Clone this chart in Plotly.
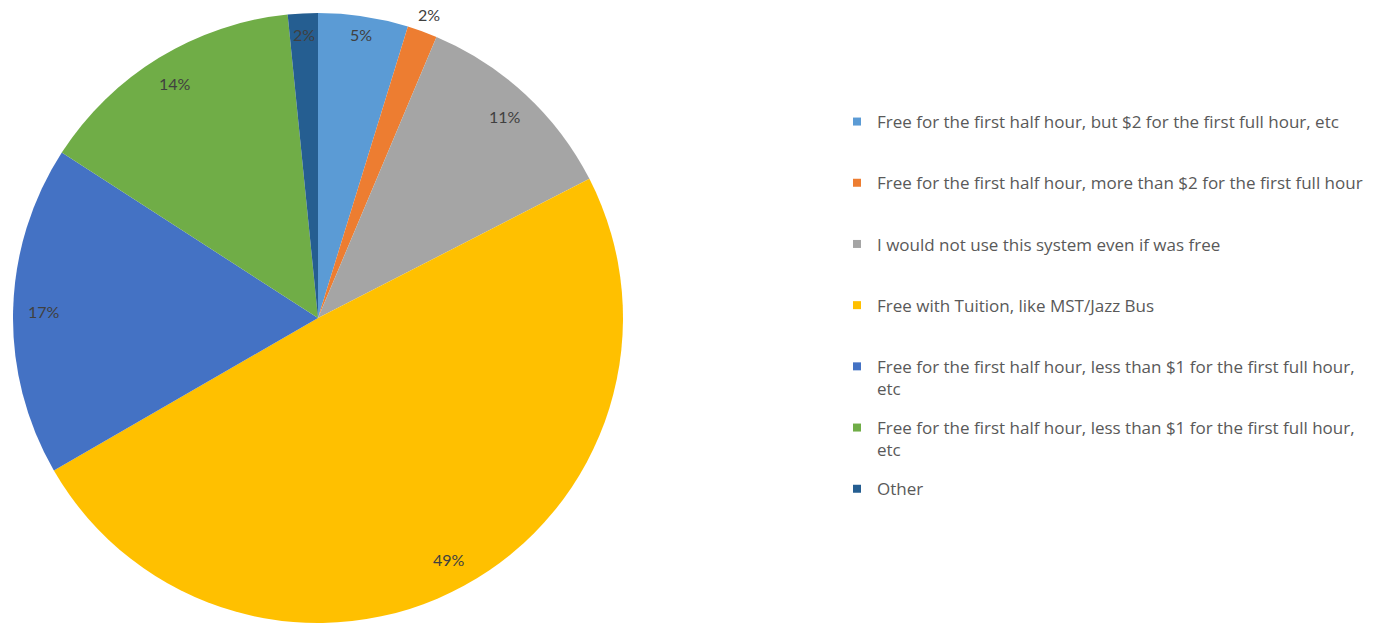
import math
import plotly.graph_objects as go

categories = [
    "Free for the first half hour, but $2 for the first full hour, etc",
    "Free for the first half hour, more than $2 for the first full hour",
    "I would not use this system even if was free",
    "Free with Tuition, like MST/Jazz Bus",
    "Free for the first half hour, less than $1 for the first full hour,<br>etc",
    "Free for the first half hour, less than $1 for the first full hour,<br>etc",
    "Other",
]
counts = [3, 1, 7, 31, 11, 9, 1]
colors = ["#5B9BD5", "#ED7D31", "#A5A5A5", "#FFC000", "#4472C4", "#70AD47", "#255E91"]
label_radius = [0.94, 1.06, 0.9, 0.9, 0.9, 0.9, 0.93]

W, H = 1379, 634
left, right, top, bottom = 13, 623, 13, 623
cx, cy, R = (left + right) / 2, (top + bottom) / 2, (right - left) / 2
FONT = "Lato"
LEGEND_FONT = "Open Sans"

fig = go.Figure()
fig.add_trace(go.Pie(
    values=counts,
    hovertext=[c.replace("<br>", " ") for c in categories],
    hoverinfo="text+percent",
    marker=dict(colors=colors, line=dict(width=0)),
    sort=False,
    direction="clockwise",
    rotation=0,
    textinfo="none",
    showlegend=False,
    domain=dict(x=[left / W, right / W], y=[1 - bottom / H, 1 - top / H]),
))

# legend entries (one group each so spacing can be controlled)
for i, (name, col) in enumerate(zip(categories, colors)):
    txt = name if "<br>" in name else name + "<br> "
    fig.add_trace(go.Scatter(
        x=[None], y=[None], mode="markers",
        marker=dict(symbol="square", size=8, color=col),
        name=txt, legendgroup=f"g{i}", showlegend=True, hoverinfo="skip",
    ))

# percentage labels placed along each slice's mid angle
total = sum(counts)
cum = 0
annotations = []
for v, rf in zip(counts, label_radius):
    mid = (cum + v / 2) / total * 2 * math.pi
    cum += v
    px = cx + rf * R * math.sin(mid)
    py = cy - rf * R * math.cos(mid)
    annotations.append(dict(
        x=px / W, y=1 - py / H, xref="paper", yref="paper",
        text=f"{round(v / total * 100)}%", showarrow=False,
        xanchor="center", yanchor="middle",
        font=dict(family=FONT, size=16, color="#404040"),
    ))

fig.update_layout(
    width=W, height=H,
    margin=dict(l=0, r=0, t=0, b=0),
    paper_bgcolor="white", plot_bgcolor="white",
    xaxis=dict(visible=False), yaxis=dict(visible=False),
    annotations=annotations,
    legend=dict(
        x=837 / W, y=1 - 104 / H, xanchor="left", yanchor="top",
        valign="top", tracegroupgap=14,
        font=dict(family=LEGEND_FONT, size=17, color="#595959"),
        bgcolor="rgba(0,0,0,0)",
    ),
    font=dict(family=FONT),
)

fig.write_html("out.html")
